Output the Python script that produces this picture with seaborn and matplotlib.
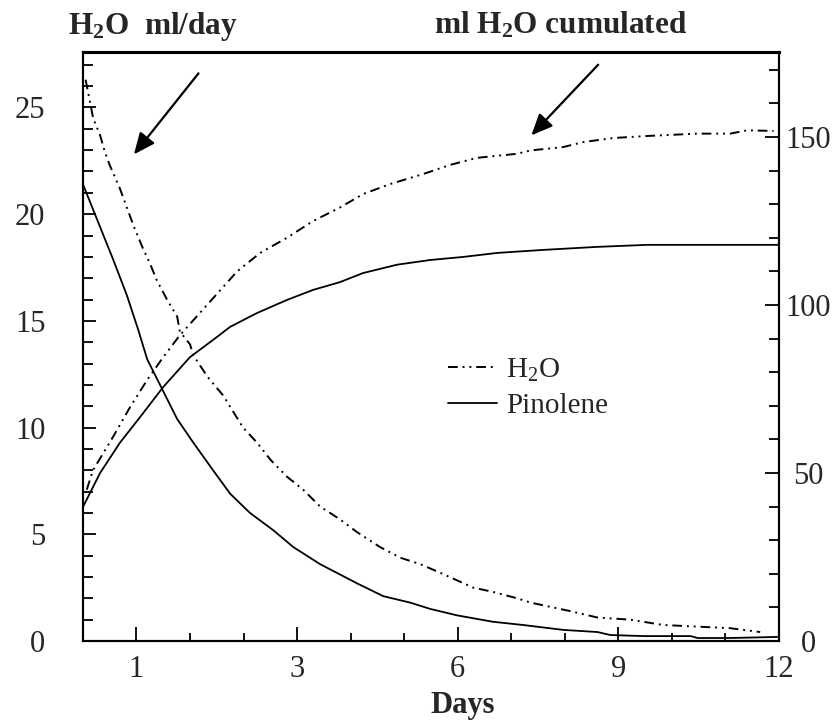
#!/usr/bin/env python3
import matplotlib

matplotlib.use("Agg")

import matplotlib.pyplot as plt
import seaborn as sns
from matplotlib.lines import Line2D
from matplotlib.ticker import FixedLocator, MultipleLocator

# x positions are in tick units of the original axis (tick 0 = left edge)
X_TICK_POS = [1, 4, 7, 10, 13]
X_TICK_LABELS = ["1", "3", "6", "9", "12"]
X_MINOR_POS = [2, 3, 5, 6, 8, 9, 11, 12]

# H2O, ml/day (left axis)
h2o_day_x = [0.05, 0.19, 0.32, 0.41, 0.50, 0.69, 0.88, 0.97, 1.12, 1.25, 1.38, 1.57, 1.76,
             1.81, 2.00, 2.06, 2.32, 2.62, 2.99, 3.25, 3.50, 3.81, 4.11, 4.43, 4.80, 5.12,
             5.55, 5.93, 6.30, 6.67, 7.29, 7.66, 8.11, 8.36, 8.73, 9.10, 9.61, 10.22, 10.84,
             11.59, 12.09, 12.65]
h2o_day_y = [26.3, 24.5, 23.7, 22.9, 22.3, 21.2, 19.9, 19.3, 18.4, 17.7, 16.9, 16.0, 15.2,
             14.5, 13.9, 13.4, 12.4, 11.5, 10.0, 9.3, 8.5, 7.7, 7.1, 6.3, 5.7, 5.1,
             4.4, 3.9, 3.6, 3.2, 2.5, 2.3, 2.0, 1.8, 1.6, 1.4, 1.1, 1.0, 0.75,
             0.66, 0.6, 0.42]

# Pinolene, ml/day (left axis)
pin_day_x = [0.0, 0.32, 0.56, 0.82, 1.03, 1.20, 1.48, 1.76, 2.06, 2.43, 2.75, 3.12, 3.55,
             3.93, 4.43, 5.12, 5.61, 6.11, 6.49, 6.99, 7.66, 8.22, 8.97, 9.61, 9.85, 10.47,
             11.35, 11.48, 12.09, 12.97]
pin_day_y = [21.4, 19.4, 17.9, 16.2, 14.6, 13.2, 11.8, 10.4, 9.3, 8.0, 6.9, 6.0, 5.2,
             4.4, 3.6, 2.7, 2.1, 1.8, 1.5, 1.2, 0.9, 0.75, 0.52, 0.42, 0.28, 0.23,
             0.23, 0.14, 0.14, 0.19]

# H2O, ml cumulated (right axis)
h2o_cum_x = [0.07, 0.19, 0.56, 0.88, 1.20, 1.50, 1.81, 2.43, 2.88, 3.31, 3.81, 4.30, 4.80,
             5.23, 5.74, 6.36, 6.86, 7.36, 8.11, 8.36, 8.97, 9.35, 9.91, 10.54, 11.48,
             12.09, 12.41, 12.90]
h2o_cum_y = [45, 50.9, 60.7, 69.6, 77.7, 84.5, 91, 102, 110, 115.5, 120, 125, 129,
             133, 136, 139, 141.7, 143.8, 145, 146, 147, 148.5, 149.7, 150.3, 151,
             151, 152, 151.8]

# Pinolene, ml cumulated (right axis)
pin_cum_x = [0.0, 0.32, 0.69, 1.07, 1.50, 2.00, 2.43, 2.75, 3.25, 3.81, 4.30, 4.80, 5.23,
             5.87, 6.49, 7.10, 7.74, 8.60, 9.61, 10.54, 13.0]
pin_cum_y = [39.9, 50, 59, 66.7, 75.6, 84.5, 89.6, 93.5, 97.6, 101.5, 104.5, 106.8, 109.5,
             112, 113.4, 114.3, 115.5, 116.4, 117.3, 117.9, 117.9]

sns.set_theme(style="white")
plt.rcParams["font.family"] = ["Liberation Serif", "DejaVu Serif"]
plt.rcParams["mathtext.fontset"] = "custom"
plt.rcParams["mathtext.rm"] = "Liberation Serif"
plt.rcParams["mathtext.default"] = "regular"

DASHDOT = (0, (5, 2.5, 1, 2.5, 1, 2.5))
TICK_FS = 22

fig = plt.figure(figsize=(8.38, 7.22), dpi=100)
ax = fig.add_axes([0.099, 0.1122, 0.8305, 0.8158])
ax2 = ax.twinx()

sns.lineplot(x=h2o_day_x, y=h2o_day_y, ax=ax, color="black", lw=1.4, linestyle=DASHDOT)
sns.lineplot(x=pin_day_x, y=pin_day_y, ax=ax, color="black", lw=1.3)
sns.lineplot(x=h2o_cum_x, y=h2o_cum_y, ax=ax2, color="black", lw=1.4, linestyle=DASHDOT)
sns.lineplot(x=pin_cum_x, y=pin_cum_y, ax=ax2, color="black", lw=1.3)

ax.set_xlim(0, 13)
ax.set_ylim(0, 27.6)
ax2.set_ylim(0, 175.3)

ax.xaxis.set_major_locator(FixedLocator(X_TICK_POS))
ax.set_xticklabels(X_TICK_LABELS)
ax.xaxis.set_minor_locator(FixedLocator(X_MINOR_POS))
ax.yaxis.set_major_locator(MultipleLocator(5))
ax.yaxis.set_minor_locator(MultipleLocator(1))
ax2.yaxis.set_major_locator(MultipleLocator(50))
ax2.yaxis.set_minor_locator(MultipleLocator(10))

ax.tick_params(axis="x", which="major", direction="in", length=10, width=1.3,
               labelsize=TICK_FS, pad=10, color="black", bottom=True)
ax.tick_params(axis="x", which="minor", direction="in", length=6, width=1.3,
               color="black", bottom=True)
ax.tick_params(axis="y", which="major", direction="in", length=9, width=1.3,
               labelsize=TICK_FS, pad=27, color="black", left=True)
ax.tick_params(axis="y", which="minor", direction="in", length=7, width=1.3,
               color="black", left=True)
ax2.tick_params(axis="y", which="major", direction="in", length=10, width=1.3,
                labelsize=TICK_FS, pad=21, color="black", right=True)
ax2.tick_params(axis="y", which="minor", direction="in", length=7, width=1.3,
                color="black", right=True)
for t in ax2.get_yticklabels():
    t.set_horizontalalignment("center")

for a in (ax, ax2):
    for side, sp in a.spines.items():
        sp.set_color("black")
        sp.set_linewidth(1.5)
    a.spines["top"].set_linewidth(2.2)
    a.set_xlabel("")
    a.set_ylabel("")
    a.grid(False)

ax.annotate("", xy=(0.92, 22.7), xytext=(2.19, 26.7),
            arrowprops=dict(arrowstyle="-|>,head_length=0.5,head_width=0.22",
                            color="black", lw=1.6, mutation_scale=26))
ax.annotate("", xy=(8.34, 23.6), xytext=(9.66, 27.1),
            arrowprops=dict(arrowstyle="-|>,head_length=0.5,head_width=0.22",
                            color="black", lw=1.6, mutation_scale=26))

handles = [
    Line2D([], [], color="black", lw=1.4, linestyle=DASHDOT),
    Line2D([], [], color="black", lw=1.3),
]
ax2.legend(handles, ["H$_2$O", "Pinolene"], loc="upper left", bbox_to_anchor=(0.524, 0.483),
           frameon=False, fontsize=21, handlelength=1.7, handletextpad=0.3,
           labelspacing=0.3, borderpad=0, borderaxespad=0)

fig.text(153 / 838, 1 - 34 / 722, "H$_2$O  ml/day", ha="center", va="baseline",
         fontsize=22.5, fontweight="bold")
fig.text(561 / 838, 1 - 34 / 722, "ml H$_2$O cumulated", ha="center", va="baseline",
         fontsize=22.5, fontweight="bold")
fig.text(463 / 838, 1 - 705 / 722, "Days", ha="center", va="center",
         fontsize=22, fontweight="bold")

fig.savefig("out.png", dpi=100, facecolor="white")
